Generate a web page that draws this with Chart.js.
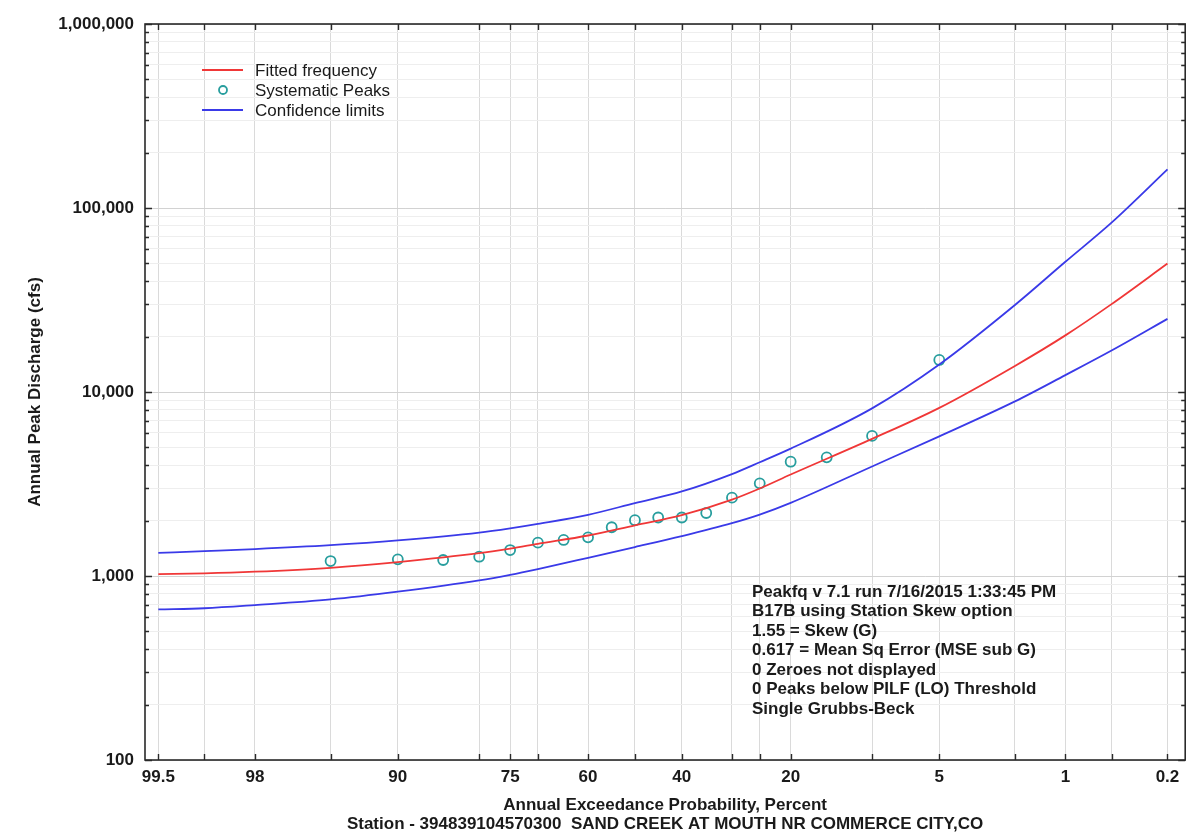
<!DOCTYPE html>
<html>
<head>
<meta charset="utf-8">
<script src="https://cdn.jsdelivr.net/npm/chart.js@4.4.1/dist/chart.umd.min.js"></script>
<style>
  html, body { margin: 0; padding: 0; background: #ffffff; }
  #wrap { width: 1192px; height: 833px; position: relative; }
</style>
</head>
<body>
<div id="wrap"><canvas id="c" width="1192" height="833"></canvas></div>
<script>
// ---------- data ----------
const CURVE_P = [99.5, 99, 98, 95, 90, 80, 75, 70, 60, 50, 40, 30, 25, 20, 10, 5, 2, 1, 0.5, 0.2];
const FITTED  = [1025, 1034, 1055, 1108, 1190, 1330, 1409, 1495, 1660, 1885, 2140, 2600, 2990, 3560, 5560, 8200, 13860, 20310, 30030, 49900];
const UPPER   = [1335, 1365, 1400, 1470, 1560, 1720, 1815, 1920, 2150, 2490, 2880, 3580, 4150, 4920, 8150, 14100, 29700, 51000, 83200, 162000];
const LOWER   = [658, 668, 695, 746, 822, 947, 1015, 1091, 1256, 1436, 1647, 1937, 2156, 2497, 3939, 5740, 8890, 12355, 16800, 24970];

const PEAK_P  = [95, 90, 85, 80, 75, 70, 65, 60, 55, 50, 45, 40, 35, 30, 25, 20, 15, 10, 5];
const PEAK_Q  = [1206, 1232, 1222, 1273, 1384, 1517, 1570, 1623, 1840, 2010, 2080, 2080, 2200, 2665, 3190, 4180, 4415, 5770, 14930];

const X_GRID_P   = [99.5, 99, 98, 95, 90, 80, 75, 70, 60, 50, 40, 30, 25, 20, 10, 5, 2, 1, 0.5, 0.2];
const X_LABEL_P  = [99.5, 98, 90, 75, 60, 40, 20, 5, 1, 0.2];
const Y_MAJOR    = [100, 1000, 10000, 100000, 1000000];
const Y_MINOR_MULT = [2, 3, 4, 5, 6, 7, 8, 9];

const LEGEND_LABELS = ['Fitted frequency', 'Systematic Peaks', 'Confidence limits'];
const INFO_LINES = [
  'Peakfq v 7.1 run 7/16/2015 1:33:45 PM',
  'B17B using Station Skew option',
  '1.55 = Skew (G)',
  '0.617 = Mean Sq Error (MSE sub G)',
  '0 Zeroes not displayed',
  '0 Peaks below PILF (LO) Threshold',
  'Single Grubbs-Beck'
];
const Y_TITLE = 'Annual Peak Discharge (cfs)';
const X_TITLE = ['Annual Exceedance Probability, Percent',
                 'Station - 394839104570300  SAND CREEK AT MOUTH NR COMMERCE CITY,CO'];

// ---------- normal probability helpers (scale transform) ----------
function normInv(p) {
  const a=[-3.969683028665376e+01,2.209460984245205e+02,-2.759285104469687e+02,1.383577518672690e+02,-3.066479806614716e+01,2.506628277459239e+00];
  const b=[-5.447609879822406e+01,1.615858368580409e+02,-1.556989798598866e+02,6.680131188771972e+01,-1.328068155288572e+01];
  const c=[-7.784894002430293e-03,-3.223964580411365e-01,-2.400758277161838e+00,-2.549671348729669e+00,4.374664141464968e+00,2.938163982698783e+00];
  const d=[7.784695709041462e-03,3.224671290700398e-01,2.445134137142996e+00,3.754408661907416e+00];
  const pl = 0.02425, ph = 1 - pl; let q, r;
  if (p < pl) { q = Math.sqrt(-2*Math.log(p)); return (((((c[0]*q+c[1])*q+c[2])*q+c[3])*q+c[4])*q+c[5])/((((d[0]*q+d[1])*q+d[2])*q+d[3])*q+1); }
  if (p <= ph) { q = p - 0.5; r = q*q; return (((((a[0]*r+a[1])*r+a[2])*r+a[3])*r+a[4])*r+a[5])*q/(((((b[0]*r+b[1])*r+b[2])*r+b[3])*r+b[4])*r+1); }
  q = Math.sqrt(-2*Math.log(1-p)); return -(((((c[0]*q+c[1])*q+c[2])*q+c[3])*q+c[4])*q+c[5])/((((d[0]*q+d[1])*q+d[2])*q+d[3])*q+1);
}
function normCdf(z) {
  const t = 1/(1+0.3275911*Math.abs(z)/Math.SQRT2);
  const y = 1 - (((((1.061405429*t-1.453152027)*t)+1.421413741)*t-0.284496736)*t+0.254829592)*t*Math.exp(-z*z/2);
  return 0.5*(1 + (z >= 0 ? y : -y));
}
const zOfExceed = p => normInv(1 - p/100);
const isPow10 = v => Math.abs(Math.log10(v) - Math.round(Math.log10(v))) < 1e-9;

class ProbabilityScale extends Chart.Scale {
  static id = 'probability';
  static defaults = {};
  parse(raw) { return raw === null || raw === undefined ? null : +raw; }
  determineDataLimits() { this.min = this.options.min; this.max = this.options.max; }
  buildTicks() { return X_GRID_P.map(v => ({ value: v, major: X_LABEL_P.includes(v) })); }
  configure() {
    super.configure();
    this._zStart = zOfExceed(this.min);
    this._zEnd = zOfExceed(this.max);
  }
  getLabelForValue(v) { return String(v); }
  getPixelForValue(v) {
    return this.getPixelForDecimal((zOfExceed(v) - this._zStart) / (this._zEnd - this._zStart));
  }
  getValueForPixel(px) {
    const z = this._zStart + this.getDecimalForPixel(px) * (this._zEnd - this._zStart);
    return (1 - normCdf(z)) * 100;
  }
}
Chart.register(ProbabilityScale);

// ---------- styles ----------
const RED = 'rgb(240,55,55)';
const BLUE = 'rgb(58,58,232)';
const TEAL = 'rgb(40,158,158)';
const TXT = '#1a1a1a';
const FONT = "'Liberation Sans', Arial, sans-serif";
Chart.defaults.font.family = FONT;
Chart.defaults.color = TXT;

const curve = (label, vals, color) => ({
  label, data: CURVE_P.map((p, i) => ({ x: p, y: vals[i] })),
  borderColor: color, borderWidth: 1.8, pointRadius: 0, showLine: true,
  cubicInterpolationMode: 'monotone', fill: false
});

const framePlugin = {
  id: 'frame',
  afterDatasetsDraw(chart) {
    const { ctx, chartArea: a, scales: { x, y } } = chart;
    ctx.save();
    ctx.strokeStyle = '#2a2a2a';
    ctx.lineWidth = 1.4;
    ctx.beginPath();
    x.ticks.forEach(t => {
      const px = Math.round(x.getPixelForValue(t.value)) + 0.5;
      ctx.moveTo(px, a.bottom); ctx.lineTo(px, a.bottom - 6);
      ctx.moveTo(px, a.top); ctx.lineTo(px, a.top + 6);
    });
    y.ticks.forEach(t => {
      const py = Math.round(y.getPixelForValue(t.value)) + 0.5;
      const len = isPow10(t.value) ? 7 : 4;
      ctx.moveTo(a.left, py); ctx.lineTo(a.left + len, py);
      ctx.moveTo(a.right, py); ctx.lineTo(a.right - len, py);
    });
    ctx.stroke();
    ctx.lineWidth = 1.6;
    ctx.strokeRect(a.left, a.top, a.right - a.left, a.bottom - a.top);
    ctx.restore();
  },
  afterDraw(chart) {
    const { ctx } = chart;
    ctx.save();
    // legend
    ctx.textBaseline = 'middle';
    ctx.textAlign = 'left';
    ctx.font = '17px ' + FONT;
    ctx.fillStyle = TXT;
    const lx = 202, tx = 255, rows = [70, 90, 110];
    ctx.lineWidth = 1.8;
    ctx.strokeStyle = RED; ctx.beginPath(); ctx.moveTo(lx, rows[0]); ctx.lineTo(lx + 41, rows[0]); ctx.stroke();
    ctx.strokeStyle = TEAL; ctx.beginPath(); ctx.arc(223, rows[1], 4, 0, Math.PI * 2); ctx.stroke();
    ctx.strokeStyle = BLUE; ctx.beginPath(); ctx.moveTo(lx, rows[2]); ctx.lineTo(lx + 41, rows[2]); ctx.stroke();
    LEGEND_LABELS.forEach((s, i) => ctx.fillText(s, tx, rows[i] + 1));
    // info block
    ctx.font = 'bold 17px ' + FONT;
    INFO_LINES.forEach((s, i) => ctx.fillText(s, 752, 592 + i * 19.5));
    ctx.restore();
  }
};

const yTicks = [];
Y_MAJOR.forEach((m, i) => {
  yTicks.push(m);
  if (i < Y_MAJOR.length - 1) Y_MINOR_MULT.forEach(k => yTicks.push(m * k));
});

new Chart(document.getElementById('c'), {
  type: 'scatter',
  data: {
    datasets: [
      curve(LEGEND_LABELS[0], FITTED, RED),
      curve(LEGEND_LABELS[2], UPPER, BLUE),
      curve(LEGEND_LABELS[2], LOWER, BLUE),
      {
        label: LEGEND_LABELS[1],
        data: PEAK_P.map((p, i) => ({ x: p, y: PEAK_Q[i] })),
        showLine: false, pointRadius: 5, pointBorderWidth: 1.8,
        pointBorderColor: TEAL, pointBackgroundColor: 'rgba(0,0,0,0)'
      }
    ]
  },
  options: {
    responsive: false,
    animation: false,
    layout: { padding: { top: 24, right: 2, left: 0, bottom: 0 } },
    plugins: { legend: { display: false }, tooltip: { enabled: false } },
    scales: {
      x: {
        type: 'probability', position: 'bottom',
        min: 99.595, max: 0.147,
        grid: { color: '#dadada', lineWidth: 1, drawTicks: false },
        border: { display: false },
        ticks: {
          autoSkip: false, maxRotation: 0, padding: 7,
          font: { size: 17, weight: 'bold' }, color: TXT,
          callback: v => X_LABEL_P.includes(v) ? String(v) : ''
        },
        title: {
          display: true, text: X_TITLE, color: TXT,
          font: { size: 17, weight: 'bold', lineHeight: 19 / 17 },
          padding: { top: 0, bottom: -1 }
        },
        afterFit: s => { s.height = 73; }
      },
      y: {
        type: 'logarithmic', position: 'left',
        min: 100, max: 1000000,
        grid: {
          drawTicks: false, lineWidth: 1,
          color: c => (c.tick && isPow10(c.tick.value)) ? '#d2d2d2' : '#eeeeee'
        },
        border: { display: false },
        afterBuildTicks: s => { s.ticks = yTicks.map(v => ({ value: v, major: isPow10(v) })); },
        ticks: {
          autoSkip: false, padding: 11,
          font: { size: 17, weight: 'bold' }, color: TXT,
          callback: v => isPow10(v) ? Number(v).toLocaleString('en-US') : ''
        },
        title: {
          display: true, text: Y_TITLE, color: TXT,
          font: { size: 17, weight: 'bold' },
          padding: { top: 25, bottom: 0 }
        },
        afterFit: s => { s.width = 145; }
      }
    }
  },
  plugins: [framePlugin]
});
</script>
</body>
</html>
